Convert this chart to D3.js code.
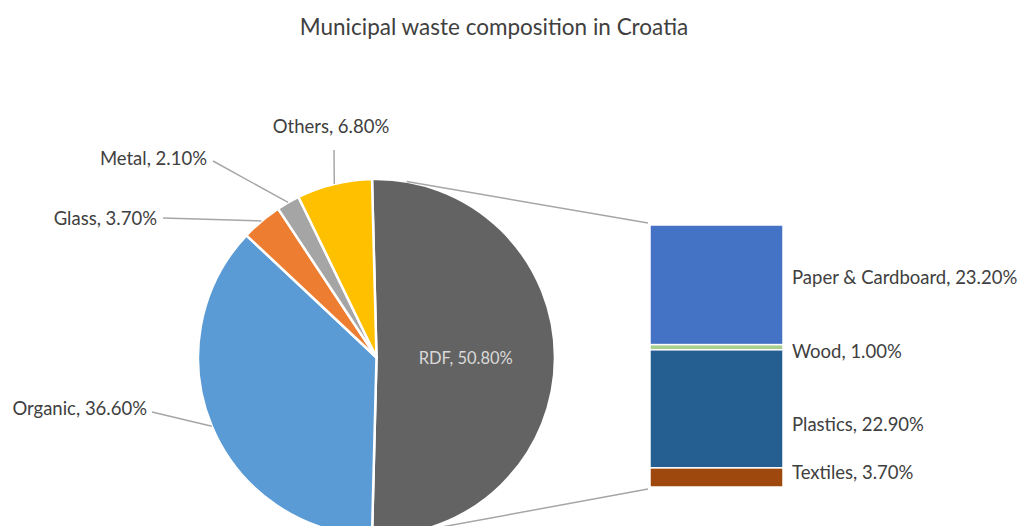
<!DOCTYPE html>
<html>
<head>
<meta charset="utf-8">
<script src="https://cdn.jsdelivr.net/npm/d3@7"></script>
<style>
  body { margin: 0; background: #fff; }
  svg { display: block; font-family: Lato, sans-serif; }
</style>
</head>
<body>
<div id="chart"></div>
<script>
// Pie categories (RDF is the split slice shown as the bar)
const pieLabels = ["RDF", "Organic", "Glass", "Metal", "Others"];
const pieValues = [50.8, 36.6, 3.7, 2.1, 6.8];
const pieColors = ["#636363", "#5B9BD5", "#ED7D31", "#A5A5A5", "#FFC000"];

// Breakdown of RDF
const barLabels = ["Paper & Cardboard", "Wood", "Plastics", "Textiles"];
const barValues = [23.2, 1.0, 22.9, 3.7];
const barColors = ["#4472C4", "#A9D18E", "#255E91", "#9E480E"];

const width = 1021, height = 526;
const cx = 376.5, cy = 357.5, r = 178.5;
const textColor = "#404040";
const lineColor = "#A6A6A6";
const fmt = v => v.toFixed(2) + "%";

const svg = d3.select("#chart").append("svg")
  .attr("width", width)
  .attr("height", height);

// Title
svg.append("text")
  .attr("x", 494)
  .attr("y", 35)
  .attr("text-anchor", "middle")
  .attr("fill", textColor)
  .style("font-size", "22.5px")
  .text("Municipal waste composition in Croatia");

// Pie - split slice centred on the right side like Excel does
const total = d3.sum(pieValues);
const start = Math.PI / 2 - Math.PI * pieValues[0] / total;
const pie = d3.pie().sort(null).startAngle(start).endAngle(start + 2 * Math.PI);
const arcs = pie(pieValues);
const arc = d3.arc().innerRadius(0).outerRadius(r);

const gPie = svg.append("g").attr("transform", `translate(${cx},${cy})`);

// Bar (stacked column)
const bar = { x: 650, w: 133, top: 225, bottom: 487 };
const yScale = d3.scaleLinear()
  .domain([0, d3.sum(barValues)])
  .range([bar.top, bar.bottom]);
const cum = d3.cumsum([0, ...barValues]);

// Series lines: tangents from bar corners to pie
function tangent(px, py, upper) {
  const dx = px - cx, dy = py - cy;
  const d = Math.hypot(dx, dy);
  const th = Math.atan2(dy, dx);
  const a = Math.acos(r / d);
  const t = upper ? th - a : th + a;
  return [cx + r * Math.cos(t), cy + r * Math.sin(t)];
}
const t1 = tangent(bar.x - 2, yScale(0) - 2, true);
const t2 = tangent(bar.x - 2, yScale(d3.sum(barValues)) + 2, false);
svg.append("line")
  .attr("x1", t1[0]).attr("y1", t1[1])
  .attr("x2", bar.x - 2).attr("y2", yScale(0) - 2)
  .attr("stroke", lineColor).attr("stroke-width", 1.5);
svg.append("line")
  .attr("x1", t2[0]).attr("y1", t2[1])
  .attr("x2", bar.x - 2).attr("y2", yScale(d3.sum(barValues)) + 2)
  .attr("stroke", lineColor).attr("stroke-width", 1.5);

gPie.selectAll("path.slice")
  .data(arcs)
  .enter()
  .append("path")
  .attr("class", "slice")
  .attr("d", arc)
  .attr("fill", (d, i) => pieColors[i])
  .attr("stroke", "#fff")
  .attr("stroke-width", 2.5)
  .attr("stroke-linejoin", "round");

// RDF label inside
const c0 = arc.centroid(arcs[0]);
gPie.append("text")
  .attr("x", c0[0])
  .attr("y", c0[1] + 6)
  .attr("text-anchor", "middle")
  .attr("fill", "#D9D9D9")
  .style("font-size", "16.5px")
  .text(`${pieLabels[0]}, ${fmt(pieValues[0])}`);

// Outside labels with leader lines (offsets of label end from slice edge)
const leaders = {
  1: { lx: 152, ly: 412, anchor: "end", tx: -5, ty: 3 },
  2: { lx: 163, ly: 218, anchor: "end", tx: -6, ty: 7 },
  3: { lx: 213, ly: 161, anchor: "end", tx: -6, ty: 4 },
  4: { lx: 334, ly: 150, anchor: "middle", tx: -3, ty: -17 }
};
Object.keys(leaders).forEach(k => {
  const i = +k, L = leaders[k];
  const a = (arcs[i].startAngle + arcs[i].endAngle) / 2;
  const ex = cx + r * Math.sin(a), ey = cy - r * Math.cos(a);
  svg.append("line")
    .attr("x1", L.lx).attr("y1", L.ly)
    .attr("x2", ex).attr("y2", ey)
    .attr("stroke", lineColor).attr("stroke-width", 1.5);
  svg.append("text")
    .attr("x", L.lx + L.tx)
    .attr("y", L.ly + L.ty)
    .attr("text-anchor", L.anchor)
    .attr("fill", textColor)
    .style("font-size", "18.5px")
    .text(`${pieLabels[i]}, ${fmt(pieValues[i])}`);
});

svg.selectAll("rect.seg")
  .data(barValues)
  .enter()
  .append("rect")
  .attr("class", "seg")
  .attr("x", bar.x)
  .attr("y", (d, i) => yScale(cum[i]))
  .attr("width", bar.w)
  .attr("height", (d, i) => yScale(cum[i + 1]) - yScale(cum[i]))
  .attr("fill", (d, i) => barColors[i])
  .attr("stroke", "#fff")
  .attr("stroke-width", 1.5);

// Bar labels (nudged like Excel to avoid overlaps)
const labelNudge = [-8, 4, 15, -5];
svg.selectAll("text.barlab")
  .data(barValues)
  .enter()
  .append("text")
  .attr("class", "barlab")
  .attr("x", bar.x + bar.w + 9)
  .attr("y", (d, i) => (yScale(cum[i]) + yScale(cum[i + 1])) / 2 + labelNudge[i] + 7)
  .attr("fill", textColor)
  .style("font-size", "18.5px")
  .text((d, i) => `${barLabels[i]}, ${fmt(d)}`);
</script>
</body>
</html>
